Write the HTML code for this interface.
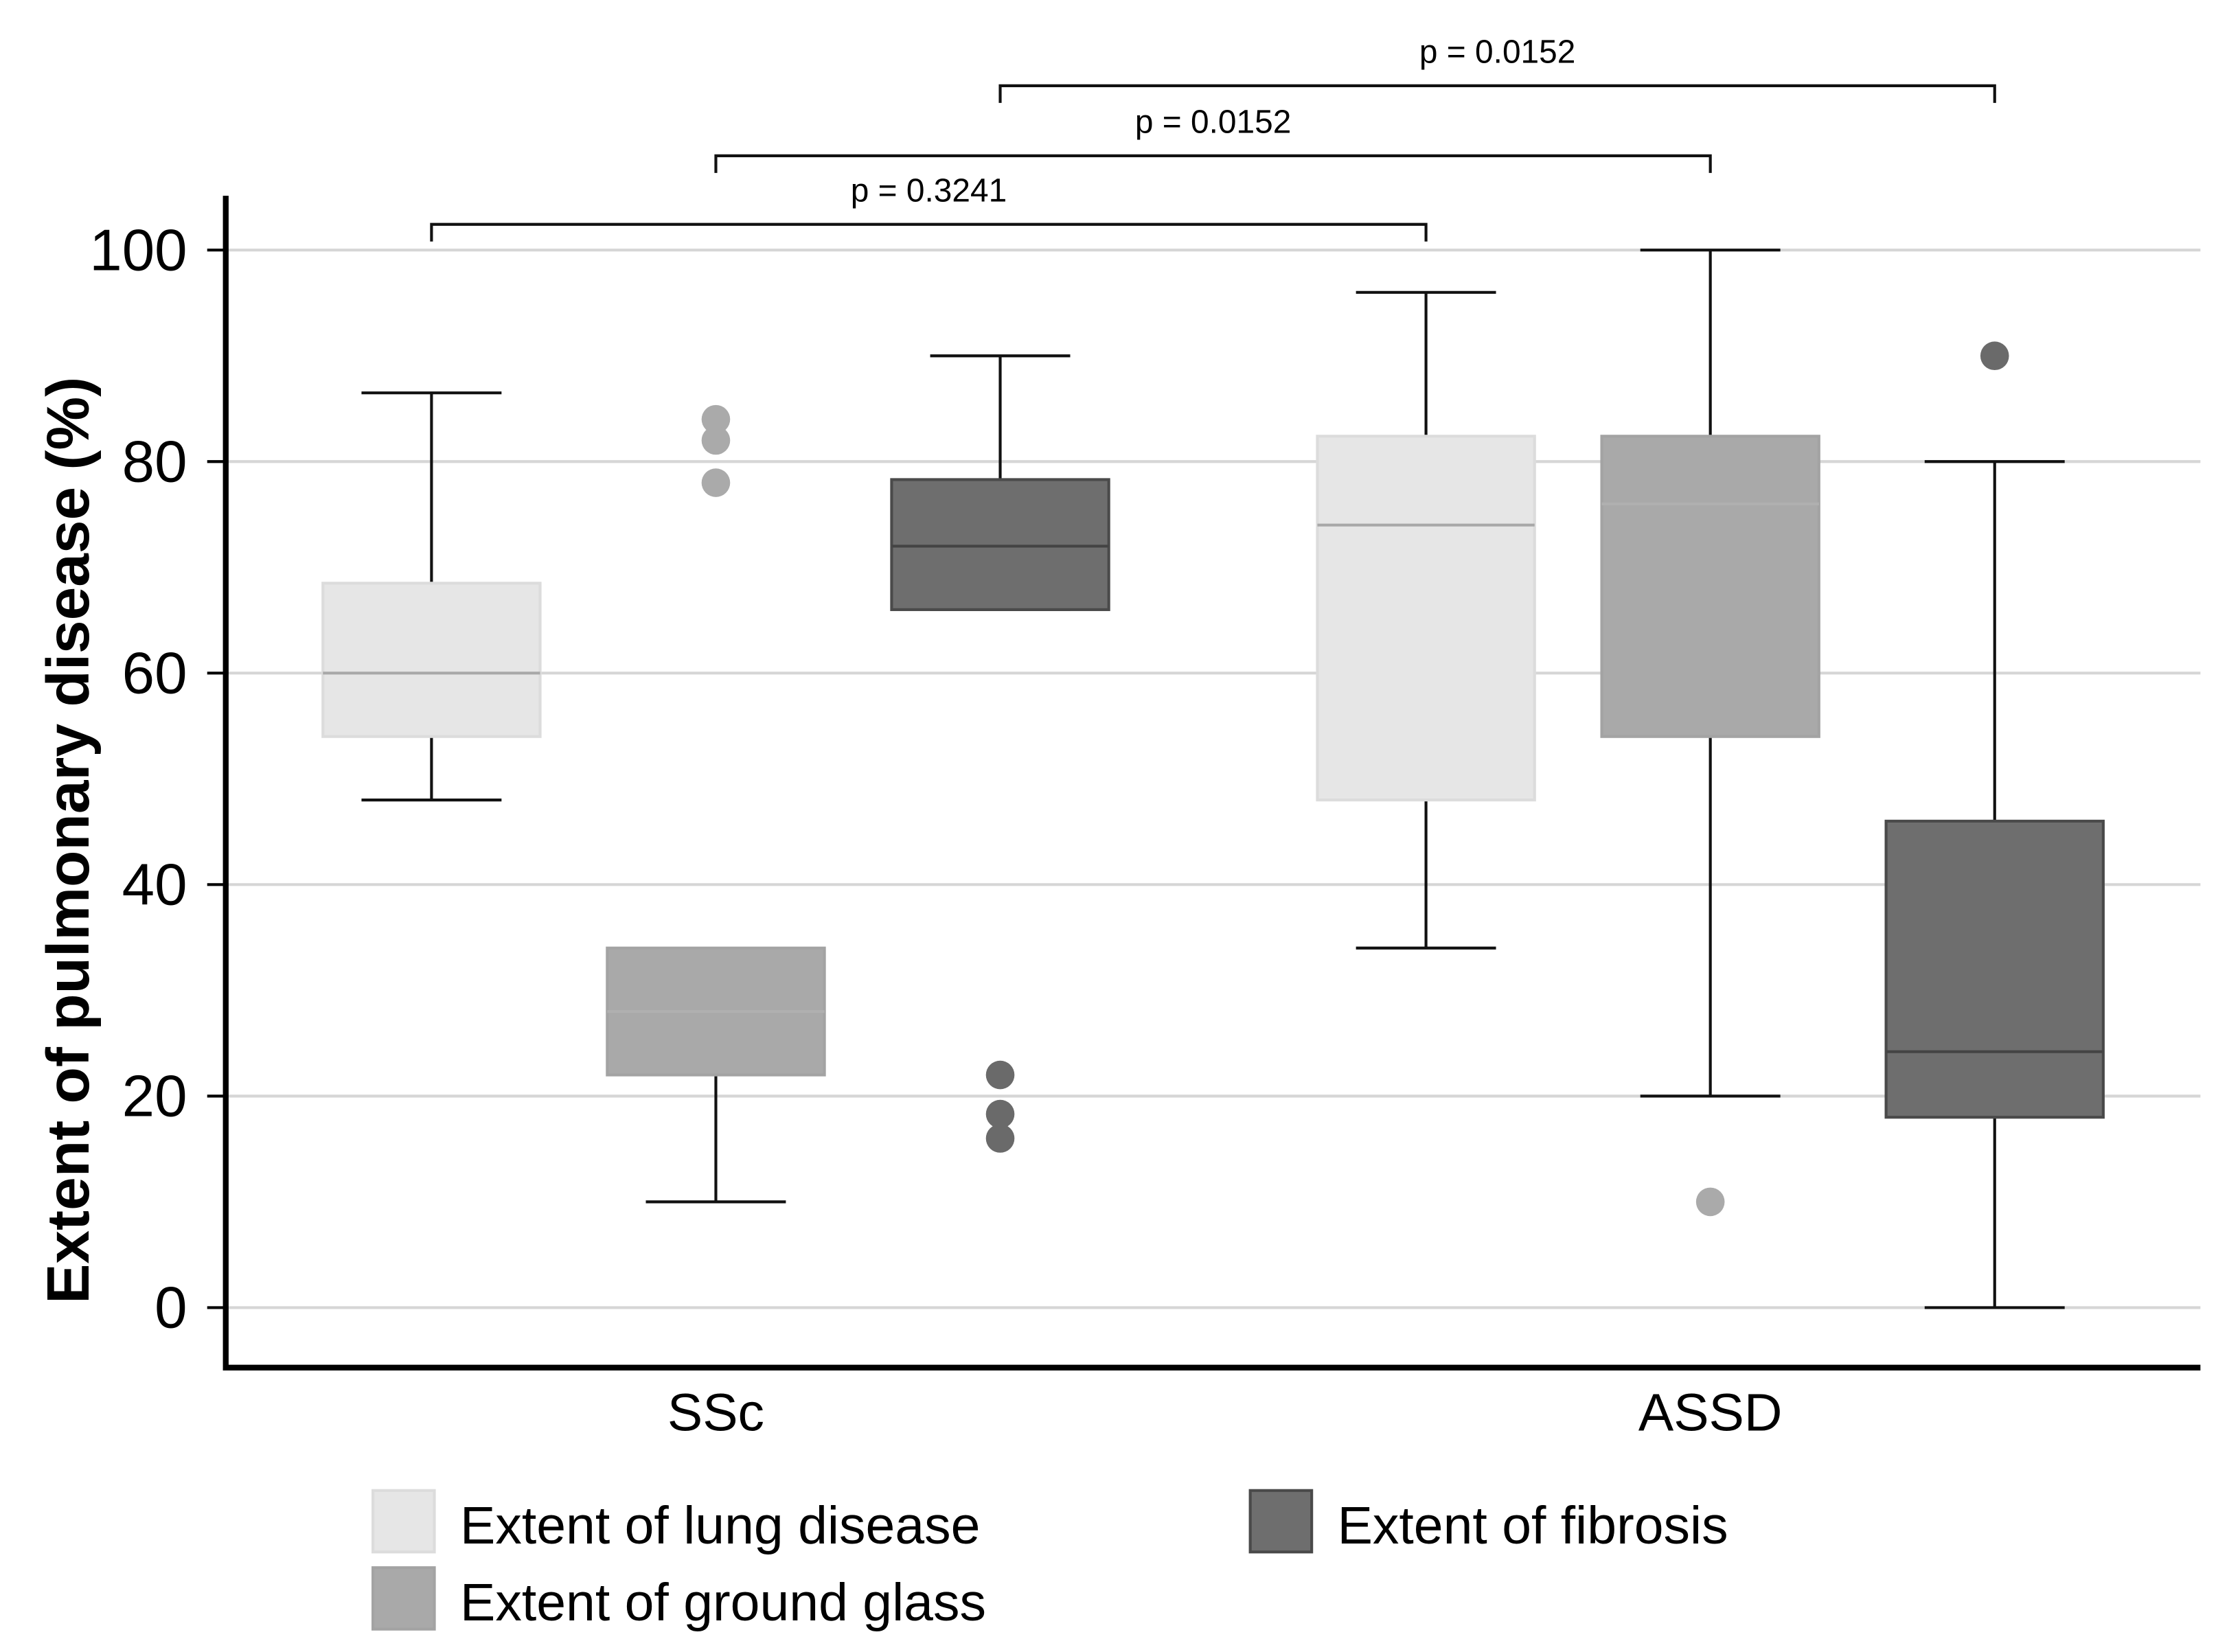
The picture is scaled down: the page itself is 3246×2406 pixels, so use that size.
<!DOCTYPE html>
<html><head><meta charset="utf-8"><style>html,body{margin:0;padding:0;background:#fff}svg{display:block}text{font-family:"Liberation Sans",sans-serif}</style></head>
<body>
<svg id="chart" width="3246" height="2406" viewBox="0 0 1560 1156" preserveAspectRatio="none" xmlns="http://www.w3.org/2000/svg"></svg>
<script>
const groups = ["SSc", "ASSD"];
const seriesNames = ["Extent of lung disease", "Extent of ground glass", "Extent of fibrosis"];
const whiskerLow = [[48, 10, 66], [34, 20, 0]];
const q1 = [[54, 22, 66], [48, 54, 18]];
const median = [[60, 28, 72], [74, 76, 24.2]];
const q3 = [[68.5, 34, 78.3], [82.4, 82.4, 46]];
const whiskerHigh = [[86.5, 34, 90], [96, 100, 80]];
const outliers = [[[], [84, 82, 78], [22, 18.3, 16]], [[], [10], [90]]];
const yTicks = [0, 20, 40, 60, 80, 100];
const pLabels = ["p = 0.3241", "p = 0.0152", "p = 0.0152"];

const NS = "http://www.w3.org/2000/svg";
const svg = document.getElementById('chart');
const fills = ["#e6e6e6", "#a9a9a9", "#6e6e6e"];
const strokes = ["#dcdcdc", "#a3a3a3", "#4a4a4a"];
const medCol = ["#a8a8a8", "#b0b0b0", "#444"];
const outCol = ["#ccc", "#aaaaaa", "#6a6a6a"];
const y = v => 915 - v * 7.4;
const xc = (g, s) => 302 + g * 696 + s * 199;
function el(tag, attrs, parent) {
  const e = document.createElementNS(NS, tag);
  for (const k in attrs) e.setAttribute(k, attrs[k]);
  (parent || svg).appendChild(e);
  return e;
}
yTicks.forEach(t => {
  const g = el('line', {x1: 158, x2: 1540, y1: y(t), y2: y(t), stroke: '#d6d6d6', 'stroke-width': 2});
  
  
  const tk = el('line', {x1: 145, x2: 158, y1: y(t), y2: y(t), stroke: '#000', 'stroke-width': 2});
  
  
  const tl = el('text', {x: 131, y: y(t) + 14, 'text-anchor': 'end', 'font-size': 41});
  tl.textContent = t;
  
  
});
groups.forEach((gn, g) => {
  for (let s = 0; s < 3; s++) {
    const cx = xc(g, s);
    const grp = el('g', {});
    
    
    el('line', {x1: cx, x2: cx, y1: y(whiskerHigh[g][s]), y2: y(q3[g][s]), stroke: '#111', 'stroke-width': 2}, grp);
    el('line', {x1: cx, x2: cx, y1: y(q1[g][s]), y2: y(whiskerLow[g][s]), stroke: '#111', 'stroke-width': 2}, grp);
    if (whiskerHigh[g][s] > q3[g][s]) el('line', {x1: cx - 49, x2: cx + 49, y1: y(whiskerHigh[g][s]), y2: y(whiskerHigh[g][s]), stroke: '#111', 'stroke-width': 2}, grp);
    el('line', {x1: cx - 49, x2: cx + 49, y1: y(whiskerLow[g][s]), y2: y(whiskerLow[g][s]), stroke: '#111', 'stroke-width': 2}, grp);
    el('rect', {x: cx - 76, y: y(q3[g][s]), width: 152, height: y(q1[g][s]) - y(q3[g][s]), fill: fills[s], stroke: strokes[s], 'stroke-width': 2}, grp);
    el('line', {x1: cx - 76, x2: cx + 76, y1: y(median[g][s]), y2: y(median[g][s]), stroke: medCol[s], 'stroke-width': 2}, grp);
    outliers[g][s].forEach(o => {
      const c = el('circle', {cx: cx, cy: y(o), r: 10, fill: outCol[s]});
      
      
    });
  }
});
const brY = [157, 109, 60];
for (let i = 0; i < 3; i++) {
  const x1 = xc(0, i), x2 = xc(1, i);
  const b = el('path', {d: `M${x1},${brY[i]+12}V${brY[i]}H${x2}V${brY[i]+12}`, fill: 'none', stroke: '#111', 'stroke-width': 2});
  
  
  const t = el('text', {x: (x1 + x2) / 2, y: brY[i] - 16, 'text-anchor': 'middle', 'font-size': 23});
  t.textContent = pLabels[i];
  
  
}
const ax = el('path', {d: 'M158,137V957H1540', fill: 'none', stroke: '#000', 'stroke-width': 4});


groups.forEach((gn, g) => {
  const t = el('text', {x: xc(g, 1), y: 1001, 'text-anchor': 'middle', 'font-size': 37});
  t.textContent = gn;
  
  
});
const yt = el('text', {x: 0, y: 0, transform: 'translate(62,588) rotate(-90)', 'text-anchor': 'middle', 'font-size': 42, 'font-weight': 'bold'});
yt.textContent = 'Extent of pulmonary disease (%)';


const legPos = [[261, 1043], [261, 1097], [875, 1043]];
seriesNames.forEach((n, i) => {
  const g = el('g', {});
  
  
  el('rect', {x: legPos[i][0], y: legPos[i][1], width: 43, height: 43, fill: fills[i], stroke: strokes[i], 'stroke-width': 2}, g);
  const t = el('text', {x: legPos[i][0] + 61, y: legPos[i][1] + 37, 'font-size': 37}, g);
  t.textContent = n;
});
</script>
</body></html>
